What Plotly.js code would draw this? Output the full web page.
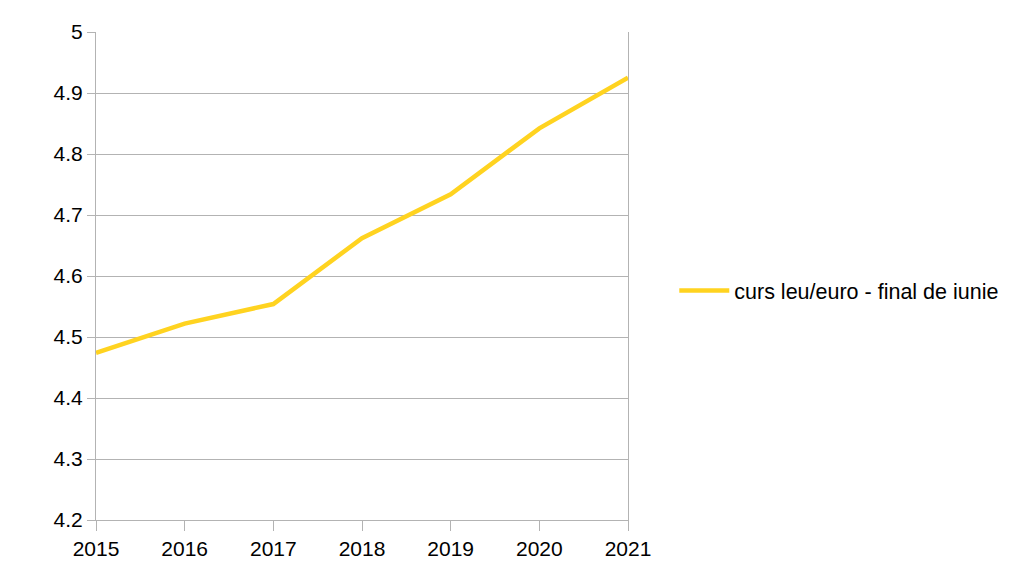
<!DOCTYPE html>
<html>
<head>
<meta charset="utf-8">
<script src="https://cdn.plot.ly/plotly-3.0.1.min.js"></script>
<style>html,body{margin:0;padding:0;background:#fff;}#chart{width:1029px;height:586px;}</style>
</head>
<body>
<div id="chart"></div>
<script>
const years = [2015, 2016, 2017, 2018, 2019, 2020, 2021];
const curs = [4.474, 4.522, 4.554, 4.662, 4.734, 4.842, 4.925];
const seriesName = "curs leu/euro - final de iunie";
const yTicks = [4.2, 4.3, 4.4, 4.5, 4.6, 4.7, 4.8, 4.9, 5];
const yTickText = ["4.2", "4.3", "4.4", "4.5", "4.6", "4.7", "4.8", "4.9", "5"];

const trace = {
  x: years, y: curs, name: seriesName, type: "scatter", mode: "lines",
  line: {color: "#ffd320", width: 4.5}
};
const layout = {
  width: 1029, height: 586,
  margin: {l: 96, r: 401, t: 32, b: 66},
  paper_bgcolor: "#fff", plot_bgcolor: "#fff",
  font: {family: "Liberation Sans, Arial, sans-serif", size: 21, color: "#000"},
  showlegend: true,
  legend: {x: 1.087, y: 0.47, xanchor: "left", yanchor: "middle", font: {size: 21.5, color: "#000"}, itemwidth: 50},
  xaxis: {
    range: [2015, 2021], tickvals: years, ticktext: years.map(String),
    showgrid: false, zeroline: false, showline: true, linecolor: "#b3b3b3", linewidth: 1,
    ticks: "outside", ticklen: 10, tickcolor: "#b3b3b3", tickfont: {size: 21}
  },
  yaxis: {
    range: [4.2, 5], tickvals: yTicks, ticktext: yTickText,
    showgrid: true, gridcolor: "#b3b3b3", gridwidth: 1, zeroline: false,
    showline: true, mirror: true, linecolor: "#b3b3b3", linewidth: 1,
    ticks: "outside", ticklen: 8, tickcolor: "#b3b3b3", tickfont: {size: 21}
  }
};
Plotly.newPlot("chart", [trace], layout, {displayModeBar: false, staticPlot: true});
</script>
</body>
</html>
